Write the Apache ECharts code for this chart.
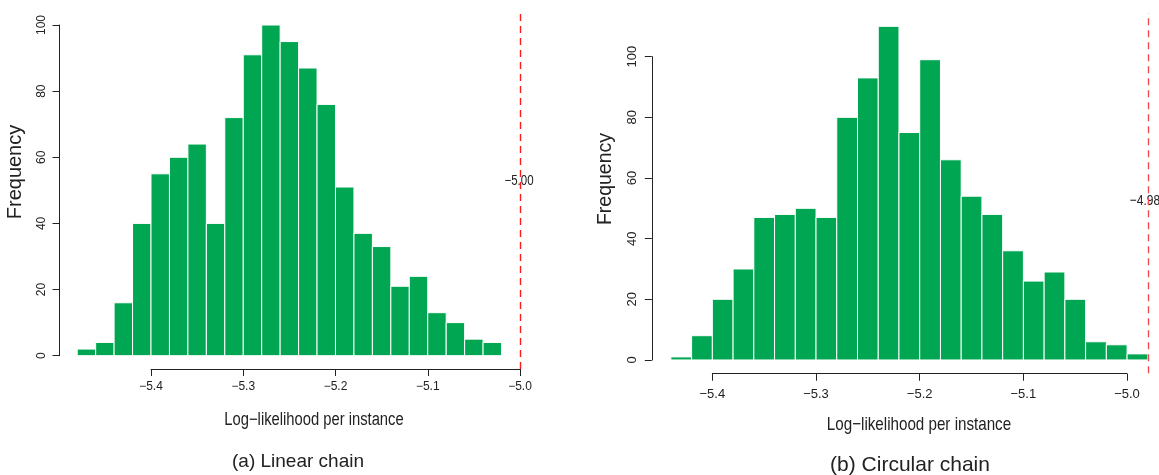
<!DOCTYPE html>
<html>
<head>
<meta charset="utf-8">
<script src="https://cdn.jsdelivr.net/npm/echarts@6/dist/echarts.min.js"></script>
<style>
  html, body { margin: 0; padding: 0; background: #fff; }
  #chart { width: 1159px; height: 475px; }
</style>
</head>
<body>
<div id="chart"></div>
<script>
// histogram bin edges and counts
const linearBreaks = [-5.48, -5.46, -5.44, -5.42, -5.40, -5.38, -5.36, -5.34, -5.32, -5.30, -5.28, -5.26,
  -5.24, -5.22, -5.20, -5.18, -5.16, -5.14, -5.12, -5.10, -5.08, -5.06, -5.04, -5.02]
const linearCounts = [2, 4, 16, 40, 55, 60, 64, 40, 72, 91, 100, 95, 87, 76, 51, 37, 33, 21, 24, 13, 10, 5, 4]
const circularBreaks = [-5.44, -5.42, -5.40, -5.38, -5.36, -5.34, -5.32, -5.30, -5.28, -5.26, -5.24, -5.22,
  -5.20, -5.18, -5.16, -5.14, -5.12, -5.10, -5.08, -5.06, -5.04, -5.02, -5.00, -4.98]
const circularCounts = [1, 8, 20, 30, 47, 48, 50, 47, 80, 93, 110, 75, 99, 66, 54, 48, 36, 26, 29, 20, 6, 5, 2]

// reference lines
const linearRef = -5.00
const circularRef = -4.98

// tick labels
const xTicks = [-5.4, -5.3, -5.2, -5.1, -5.0]
const yTicks = [0, 20, 40, 60, 80, 100]

const GREEN = '#00a651'
const AXIS = '#222'
const SANS = "'Liberation Sans', Arial, sans-serif"
const NARROW = 0.82   // horizontal squeeze, the labels in the picture are condensed

function toBins(breaks, counts) {
  return counts.map((c, i) => [breaks[i], breaks[i + 1], c])
}

function renderBar(params, api) {
  const p0 = api.coord([api.value(0), 0])
  const p1 = api.coord([api.value(1), api.value(2)])
  return {
    type: 'rect',
    shape: { x: p0[0], y: p1[1], width: p1[0] - p0[0], height: p0[1] - p1[1] },
    style: { fill: GREEN, stroke: '#ffffff', lineWidth: 1 }
  }
}

function hiddenAxis(gridIndex) {
  return { type: 'value', gridIndex: gridIndex, min: 0, max: 1, show: false }
}

function tickXAxis(gridIndex, fontSize, margin) {
  return {
    type: 'value', gridIndex: gridIndex,
    min: xTicks[0], max: xTicks[xTicks.length - 1], interval: 0.1,
    axisLine: { show: true, lineStyle: { color: AXIS, width: 1 } },
    axisTick: { show: true, length: 7, lineStyle: { color: AXIS } },
    splitLine: { show: false },
    axisLabel: {
      show: true, margin: margin, fontSize: fontSize, fontFamily: SANS, color: AXIS,
      showMinLabel: true, showMaxLabel: true,
      formatter: v => (v < 0 ? '\u2212' : '') + Math.abs(v).toFixed(1)
    }
  }
}

function tickYAxis(gridIndex, fontSize, margin) {
  return {
    type: 'value', gridIndex: gridIndex,
    min: yTicks[0], max: yTicks[yTicks.length - 1], interval: 20,
    axisLine: { show: true, lineStyle: { color: AXIS, width: 1 } },
    axisTick: { show: true, length: 7, lineStyle: { color: AXIS } },
    splitLine: { show: false },
    axisLabel: { show: true, rotate: 90, margin: margin, fontSize: fontSize, fontFamily: SANS, color: AXIS }
  }
}

function refLine(x, color) {
  return {
    symbol: 'none', silent: true, animation: false,
    label: { show: false },
    lineStyle: { color: color, type: [7, 5], width: 1.4 },
    data: [{ xAxis: x }]
  }
}

function label(text, x, y, size, opts) {
  opts = opts || {}
  return {
    type: 'text', x: x, y: y,
    rotation: opts.rotation || 0,
    scaleX: opts.squeeze || 1,
    style: { text: text, font: size + 'px ' + SANS, fill: AXIS, align: 'center', verticalAlign: 'middle' }
  }
}

const chart = echarts.init(document.getElementById('chart'))

const option = {
  backgroundColor: '#ffffff',
  animation: false,
  grid: [
    // linear chain: plot region, x axis strip, y axis strip
    { left: 59.5, top: 11.8, width: 478.2, height: 357.1, outerBoundsMode: 'none' },
    { left: 151, top: 360, width: 369, height: 9, outerBoundsMode: 'none' },
    { left: 59.5, top: 25, width: 10, height: 330.7, outerBoundsMode: 'none' },
    // circular chain
    { left: 651.8, top: 13, width: 515.1, height: 360.3, outerBoundsMode: 'none' },
    { left: 712.3, top: 364, width: 414.7, height: 9.7, outerBoundsMode: 'none' },
    { left: 651.8, top: 56.7, width: 10, height: 303.3, outerBoundsMode: 'none' }
  ],
  xAxis: [
    { type: 'value', gridIndex: 0, min: -5.4992, max: -4.9808, show: false },
    tickXAxis(1, 12, 12),
    hiddenAxis(2),
    { type: 'value', gridIndex: 3, min: -5.4584, max: -4.9616, show: false },
    tickXAxis(4, 13, 14),
    hiddenAxis(5)
  ],
  yAxis: [
    { type: 'value', gridIndex: 0, min: -4, max: 104, show: false },
    hiddenAxis(1),
    tickYAxis(2, 12, 12),
    { type: 'value', gridIndex: 3, min: -4.4, max: 114.4, show: false },
    hiddenAxis(4),
    tickYAxis(5, 13, 13)
  ],
  series: [
    {
      name: 'Linear chain', type: 'custom', xAxisIndex: 0, yAxisIndex: 0,
      renderItem: renderBar, encode: { x: [0, 1], y: 2 },
      data: toBins(linearBreaks, linearCounts),
      markLine: refLine(linearRef, '#ff1a1a')
    },
    {
      name: 'Circular chain', type: 'custom', xAxisIndex: 3, yAxisIndex: 3,
      renderItem: renderBar, encode: { x: [0, 1], y: 2 },
      data: toBins(circularBreaks, circularCounts),
      markLine: refLine(circularRef, '#f04f4f')
    }
  ],
  graphic: [
    label('Frequency', 15, 172, 20, { rotation: Math.PI / 2 }),
    label('Frequency', 606, 179, 19.5, { rotation: Math.PI / 2 }),
    label('Log\u2212likelihood per instance', 314, 420, 18, { squeeze: NARROW }),
    label('Log\u2212likelihood per instance', 919, 425, 18.5, { squeeze: NARROW }),
    label('(a) Linear chain', 298, 462, 19),
    label('(b) Circular chain', 910, 465, 21),
    label('\u22125.00', 519, 181, 14, { squeeze: NARROW }),
    label('\u22124.98', 1145, 201, 15, { squeeze: 0.8 })
  ]
}

chart.setOption(option)
</script>
</body>
</html>
